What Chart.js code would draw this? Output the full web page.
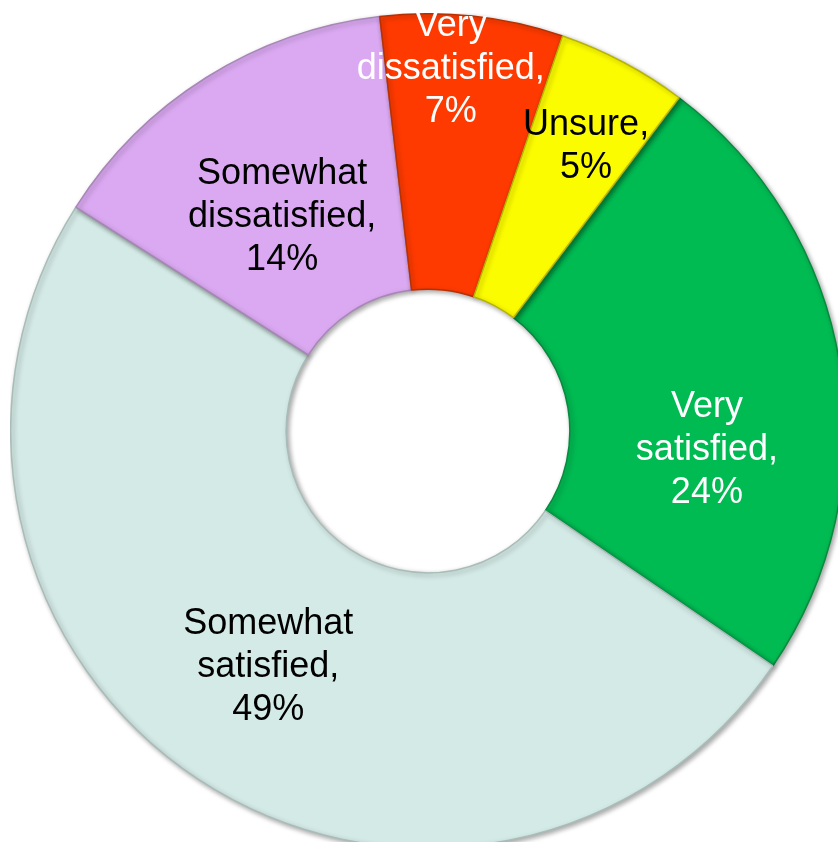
<!DOCTYPE html>
<html>
<head>
<meta charset="utf-8">
<script src="https://cdn.jsdelivr.net/npm/chart.js@4/dist/chart.umd.min.js"></script>
<style>
    html, body { margin: 0; padding: 0; background: #fff; overflow: hidden; width: 838px; height: 842px; }
    #wrap { position: absolute; left: 10px; top: 13px; width: 836px; height: 836px; }
</style>
</head>
<body>
<div id="wrap"><canvas id="satisfactionChart" width="836" height="836"></canvas></div>
<script>
const categories = ['Very satisfied', 'Somewhat satisfied', 'Somewhat dissatisfied', 'Very dissatisfied', 'Unsure'];
const percentages = [24, 49, 14, 7, 5];

const sliceColors = ['#00ba52', '#d4eae6', '#dba9f2', '#ff3a00', '#fcfc00'];
const sliceBorders = ['#078a3e', '#a9bcb8', '#a986b8', '#b83000', '#b8b400'];
const textColors = ['#ffffff', '#000000', '#000000', '#ffffff', '#000000'];

// where Excel put each label: shift from mid angle (deg), position across the ring (0 inner .. 1 outer)
const labelAngleShift = [13.3, 0.7, -2.2, -2.5, 1.2];
const labelRingPos = [0.50, 0.52, 0.425, 0.80, 0.665];

function labelLines(name, value) {
    const words = name.split(' ');
    words[words.length - 1] += ',';
    return [...words, value + '%'];
}

// soft drop shadow like the bevelled office chart
const shadowPlugin = {
    id: 'shadow',
    beforeDatasetDraw(chart) {
        const ctx = chart.ctx;
        ctx.save();
        ctx.shadowColor = 'rgba(0,0,0,0.35)';
        ctx.shadowBlur = 5;
        ctx.shadowOffsetX = 2;
        ctx.shadowOffsetY = 2;
    },
    afterDatasetDraw(chart) {
        chart.ctx.restore();
    }
};

const sliceLabels = {
    id: 'sliceLabels',
    afterDatasetsDraw(chart) {
        const ctx = chart.ctx;
        const arcs = chart.getDatasetMeta(0).data;
        ctx.save();
        ctx.font = '36px "Liberation Sans", Arial, sans-serif';
        ctx.textAlign = 'center';
        ctx.textBaseline = 'middle';
        arcs.forEach((arc, i) => {
            const p = arc.getProps(['x', 'y', 'startAngle', 'endAngle', 'innerRadius', 'outerRadius'], true);
            const a = (p.startAngle + p.endAngle) / 2 + labelAngleShift[i] * Math.PI / 180;
            const r = p.innerRadius + (p.outerRadius - p.innerRadius) * labelRingPos[i];
            const cx = p.x + r * Math.cos(a);
            const cy = p.y + r * Math.sin(a);
            const lines = labelLines(categories[i], percentages[i]);
            const lh = 43;
            const top = cy - (lines.length - 1) * lh / 2;
            ctx.fillStyle = textColors[i];
            lines.forEach((t, k) => ctx.fillText(t, cx, top + k * lh));
        });
        ctx.restore();
    }
};

new Chart(document.getElementById('satisfactionChart'), {
    type: 'doughnut',
    data: {
        labels: categories,
        datasets: [{
            data: percentages,
            backgroundColor: sliceColors,
            borderColor: sliceBorders,
            borderWidth: 1.5
        }]
    },
    options: {
        responsive: false,
        animation: false,
        rotation: 37,
        cutout: '34%',
        layout: { padding: 0 },
        plugins: {
            legend: { display: false },
            tooltip: { enabled: false }
        }
    },
    plugins: [shadowPlugin, sliceLabels]
});
</script>
</body>
</html>
